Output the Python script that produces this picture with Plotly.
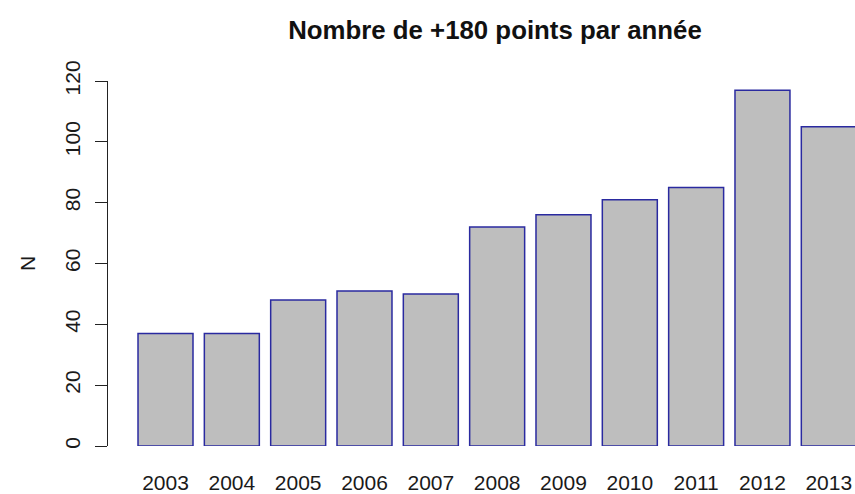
import plotly.graph_objects as go

years = ["2003", "2004", "2005", "2006", "2007", "2008", "2009", "2010", "2011", "2012", "2013"]
counts = [37, 37, 48, 51, 50, 72, 76, 81, 85, 117, 105]
y_ticks = [0, 20, 40, 60, 80, 100, 120]
title_text = "Nombre de +180 points par année"
y_label = "N"

font_family = "Liberation Sans, Arial, sans-serif"

W, H = 855, 494

fig = go.Figure(
    go.Bar(
        x=years,
        y=counts,
        marker=dict(color="#bebebe", line=dict(color="#2a2aa0", width=1.5)),
        cliponaxis=False,
        hoverinfo="x+y",
    )
)

fig.update_layout(
    width=W,
    height=H,
    margin=dict(l=108, r=0, t=81, b=48, autoexpand=False),
    paper_bgcolor="white",
    plot_bgcolor="white",
    bargap=0.171,
    showlegend=False,
    title=dict(
        text=title_text,
        font=dict(family=font_family, size=25.8, color="#111111", weight="bold"),
        xref="container",
        x=495 / W,
        xanchor="center",
        yref="container",
        y=1 - 30 / H,
        yanchor="middle",
    ),
    font=dict(family=font_family, color="#1a1a1a", size=21),
)

fig.update_xaxes(
    type="category",
    range=[-0.867, 10.395],
    showline=False,
    showgrid=False,
    zeroline=False,
    ticks="",
    tickfont=dict(size=21, family=font_family, color="#1a1a1a"),
    ticklabelstandoff=22,
    automargin=False,
)

fig.update_yaxes(
    range=[0, 120],
    tickvals=y_ticks,
    ticktext=[str(v) for v in y_ticks],
    showline=True,
    linecolor="#222222",
    linewidth=1,
    ticks="outside",
    ticklen=12,
    tickcolor="#222222",
    tickwidth=1,
    tickangle=-90,
    tickfont=dict(size=21, family=font_family, color="#1a1a1a"),
    ticklabelstandoff=7,
    showgrid=False,
    zeroline=False,
    automargin=False,
    title=dict(text=y_label, font=dict(size=21, family=font_family, color="#1a1a1a"), standoff=19),
)

fig.write_html(
    "out.html",
    config={"displayModeBar": False},
    post_script="document.body.style.margin='0';document.body.style.overflow='hidden';",
)
